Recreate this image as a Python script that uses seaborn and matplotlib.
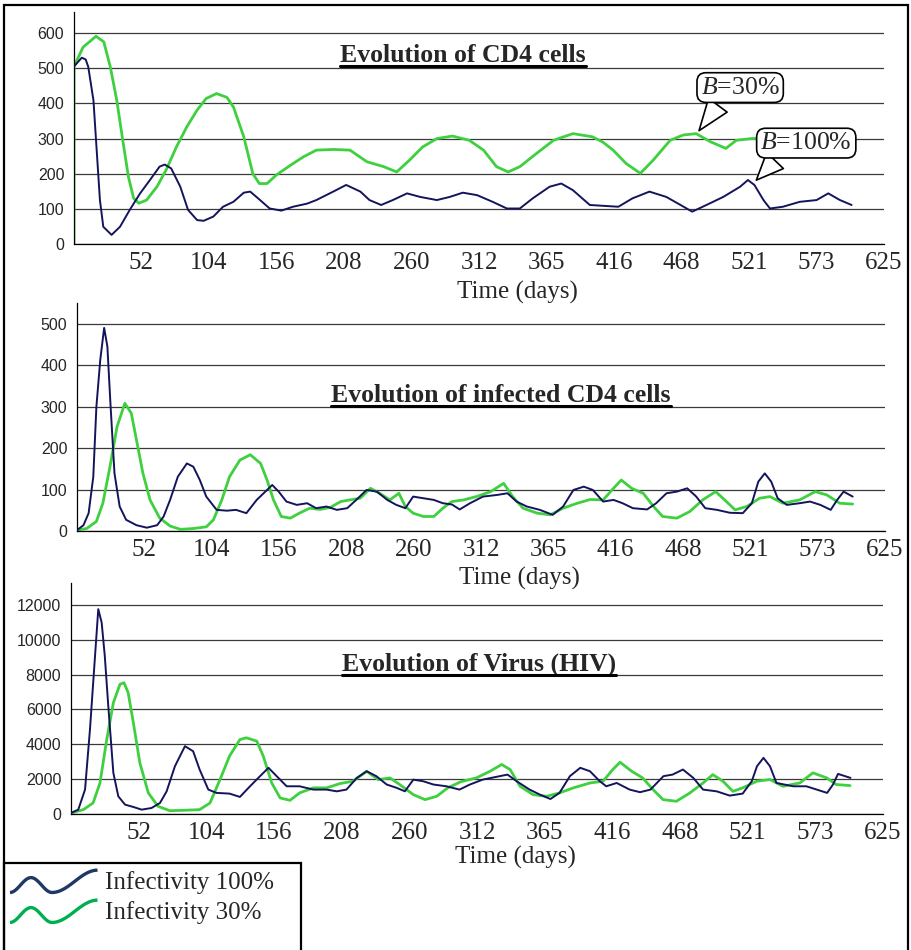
import numpy as np
import pandas as pd
import seaborn as sns
import matplotlib.pyplot as plt
from matplotlib.lines import Line2D
from matplotlib.patches import Rectangle
from matplotlib.legend_handler import HandlerBase

# ---- data (day, value) ----
cd4_days_100 = [0, 6, 9, 11, 15, 17.5, 20, 22.6, 29, 35.5, 43, 51, 58.6, 66, 70, 75, 82, 88, 95, 100,
                107.5, 115, 123, 131, 136, 142, 151, 160, 169, 180, 187, 200, 210, 221, 228, 237, 246,
                257, 267, 280, 290, 300, 311, 323, 334, 344, 354, 367, 376, 385, 398, 411, 420, 431,
                444, 457, 468, 477, 488, 501, 514, 520, 525, 532, 537, 547, 560, 573, 582, 591, 600]
cd4_vals_100 = [505, 530, 525, 504, 409, 267, 125, 49, 26, 49, 97, 144, 182, 220, 226, 215, 163, 97, 68, 66,
                78, 106, 120, 146, 149, 130, 101, 95, 106, 115, 125, 149, 168, 149, 125, 111, 125,
                144, 134, 125, 134, 146, 139, 120, 101, 101, 130, 163, 172, 153, 111, 108, 106, 130,
                149, 134, 111, 92, 111, 134, 163, 182, 168, 125, 101, 106, 120, 125, 144, 125, 111]

cd4_days_30 = [0, 0, 7, 17, 23, 28, 33, 38, 42, 46, 50, 56, 64, 71, 79, 87, 95, 102, 110, 118, 123, 131,
               138, 143, 149, 156, 167, 177, 187, 200, 213, 226, 239, 249, 259, 269, 280, 292, 305, 316,
               326, 335, 344, 357, 370, 385, 400, 408, 416, 426, 437, 447, 460, 470, 480, 491, 503, 511,
               523, 540, 560, 580, 600]
cd4_vals_30 = [0, 505, 560, 591, 575, 504, 409, 286, 191, 130, 116, 125, 163, 210, 276, 333, 381, 414, 428,
               417, 390, 305, 200, 172, 172, 196, 224, 248, 267, 269, 267, 234, 220, 205, 239, 276, 300,
               307, 295, 267, 220, 205, 220, 258, 295, 314, 305, 290, 267, 229, 201, 239, 295, 310, 314,
               291, 272, 295, 300, 300, 300, 300, 300]

inf_days_100 = [0, 5, 9, 12.6, 15, 18, 21, 23.5, 26, 29, 33, 38, 46, 54, 62, 67, 72, 78, 85, 90, 95, 100,
                108, 116, 123, 131, 139, 147, 151, 156, 162, 170, 178, 185, 193, 201, 209, 216, 224, 232,
                240, 247, 254, 260, 268, 276, 283, 290, 296, 304, 314, 325, 333, 340, 348, 358, 368, 376,
                384, 392, 399, 407, 415, 422, 430, 441, 448, 456, 464, 472, 479, 486, 495, 505, 515, 522,
                527, 532, 537, 542, 549, 559, 567, 575, 583, 588, 593, 600]
inf_vals_100 = [2, 14, 43, 131, 300, 413, 490, 445, 300, 139, 59, 27, 14, 8, 14, 35, 75, 131, 163, 155, 123,
                83, 51, 49, 51, 43, 75, 99, 111, 95, 71, 63, 67, 55, 59, 51, 55, 75, 99, 95, 75, 63, 55,
                83, 79, 75, 67, 64, 52, 67, 83, 87, 91, 71, 59, 51, 39, 59, 99, 107, 99, 71, 75, 67, 55,
                52, 67, 91, 95, 103, 83, 55, 51, 44, 43, 67, 119, 139, 119, 79, 63, 67, 71, 63, 51, 75,
                95, 83]

inf_days_30 = [0, 7.5, 15, 20, 25.5, 31, 37, 42, 46, 51, 56.5, 64, 72, 80, 90, 100, 105.5, 112, 118, 126,
               134, 142, 147, 152, 158, 165, 172, 180, 188, 196, 204, 211, 219, 227, 234, 242, 249, 254,
               260, 268, 276, 283, 290, 299, 309, 320, 330, 337, 345, 356, 366, 376, 387, 397, 407, 415,
               421, 429, 438, 446, 453, 464, 474, 484, 494, 501, 509, 518, 528, 536, 546, 559, 571, 580,
               590, 600]
inf_vals_30 = [2, 6, 23, 67, 155, 252, 308, 284, 220, 139, 75, 31, 12, 4, 6, 10, 27, 75, 131, 171, 184, 163,
               123, 75, 35, 31, 43, 55, 52, 57, 71, 75, 79, 103, 91, 75, 91, 59, 43, 35, 35, 55, 71, 75,
               83, 95, 115, 83, 55, 43, 39, 55, 67, 76, 75, 103, 123, 103, 91, 59, 35, 31, 47, 75, 95,
               75, 51, 59, 79, 83, 67, 75, 95, 87, 67, 65]

hiv_days_100 = [0, 5.6, 10.8, 14.6, 18.5, 21, 23.6, 26, 28.7, 32.6, 36.4, 41.6, 48, 54.4, 62, 68.5, 73.6,
                80, 87.7, 94, 99, 105.7, 112, 122, 130, 137.8, 145.5, 152, 158.3, 166, 176, 186.5, 196.8,
                204.5, 212, 220, 227.6, 235, 243, 250.7, 257, 263.5, 271, 279, 289, 299, 307, 317, 330,
                336, 343, 353, 361, 369, 376, 384, 392, 399.5, 407, 412, 420, 430, 438, 446, 456, 463,
                471, 479, 486.5, 497, 507, 517, 524, 528, 533, 538, 543, 556, 566, 574, 582, 586.5, 590.4,
                600]
hiv_vals_100 = [58, 250, 1400, 4850, 9070, 11750, 10980, 9070, 6190, 2360, 1015, 537, 403, 250, 345, 633,
                1300, 2740, 3890, 3600, 2550, 1400, 1210, 1170, 980, 1590, 2170, 2650, 2170, 1590, 1590,
                1400, 1400, 1300, 1400, 2070, 2450, 2170, 1690, 1500, 1300, 1970, 1880, 1690, 1590, 1400,
                1690, 1975, 2170, 2260, 1880, 1400, 1110, 860, 1210, 2170, 2650, 2450, 1880, 1590, 1780,
                1400, 1250, 1400, 2170, 2260, 2550, 2070, 1400, 1300, 1055, 1170, 1880, 2740, 3220, 2740,
                1780, 1590, 1590, 1400, 1210, 1690, 2300, 2070]

hiv_days_30 = [0, 9.5, 17, 22.3, 27.5, 32.6, 37.7, 40.8, 44, 48, 53, 59.5, 67, 76, 86, 99, 107, 114.7, 122,
               130, 135, 143, 148, 154.5, 161, 168.6, 176, 186.5, 196.8, 207, 217, 227.6, 236.5, 245.5,
               253, 263.5, 272.5, 281.5, 290, 300, 312, 322.5, 331.5, 338, 345.6, 355.7, 366, 376, 386.7,
               399.5, 409.5, 417, 422.6, 431.6, 440, 448, 455.7, 466, 476.4, 486.5, 494, 501.8, 509.5, 517,
               527.8, 538, 548, 561, 571, 581.7, 589, 599.6]
hiv_vals_30 = [58, 250, 633, 1780, 4270, 6380, 7440, 7530, 6960, 5230, 2930, 1210, 440, 190, 210, 250, 633,
               1975, 3320, 4270, 4370, 4180, 3320, 1780, 920, 785, 1210, 1500, 1500, 1745, 1880, 2450,
               1975, 2070, 1690, 1110, 825, 1015, 1500, 1850, 2070, 2450, 2840, 2550, 1590, 1110, 1015,
               1210, 1500, 1780, 1880, 2550, 2970, 2450, 2070, 1400, 825, 730, 1210, 1780, 2260, 1880,
               1300, 1500, 1880, 1975, 1590, 1780, 2360, 2070, 1690, 1630]

tick_labels = ['', '52', '104', '156', '208', '260', '312', '365', '416', '468', '521', '573', '625']
titles = ['Evolution of CD4 cells', 'Evolution of infected CD4 cells', 'Evolution of Virus (HIV)']
series_names = ['Infectivity 100%', 'Infectivity 30%']

NAVY = '#14145c'
GREEN = '#3fd03f'
SERIF = 'Liberation Serif'
SANS = 'Liberation Sans'

sns.set_style('white')
plt.rcParams['font.family'] = [SERIF, 'DejaVu Sans']
plt.rcParams['mathtext.fontset'] = 'custom'
plt.rcParams['mathtext.rm'] = SERIF
plt.rcParams['mathtext.it'] = SERIF + ':italic'

W, H = 911, 950
fig = plt.figure(figsize=(W / 100, H / 100), dpi=100)


def px_rect(left, top, right, bottom):
    return [left / W, 1 - bottom / H, (right - left) / W, (bottom - top) / H]


panels = [
    dict(rect=px_rect(74, 12, 884, 244), ylim=660, yticks=range(0, 601, 100),
         d100=cd4_days_100, v100=cd4_vals_100, d30=cd4_days_30, v30=cd4_vals_30,
         title_xy=(0.48, 0.785), xlabel_y=-0.207),
    dict(rect=px_rect(77, 303, 885, 531), ylim=550, yticks=range(0, 501, 100),
         d100=inf_days_100, v100=inf_vals_100, d30=inf_days_30, v30=inf_vals_30,
         title_xy=(0.525, 0.567), xlabel_y=-0.206),
    dict(rect=px_rect(71, 583, 883, 814), ylim=13250, yticks=range(0, 12001, 2000),
         d100=hiv_days_100, v100=hiv_vals_100, d30=hiv_days_30, v30=hiv_vals_30,
         title_xy=(0.502, 0.623), xlabel_y=-0.19),
]

tick_pos = np.arange(13) * 625 / 12
title_texts = []
axes = []
for p, title in zip(panels, titles):
    ax = fig.add_axes(p['rect'])
    ax.patch.set_alpha(0)
    axes.append(ax)
    df = pd.concat([
        pd.DataFrame({'day': p['d100'], 'value': p['v100'], 'series': series_names[0]}),
        pd.DataFrame({'day': p['d30'], 'value': p['v30'], 'series': series_names[1]}),
    ])
    sns.lineplot(data=df[df.series == series_names[0]], x='day', y='value', color=NAVY,
                 estimator=None, sort=False, lw=1.4, ax=ax, zorder=3)
    sns.lineplot(data=df[df.series == series_names[1]], x='day', y='value', color=GREEN,
                 estimator=None, sort=False, lw=2.0, ax=ax, zorder=2.5)
    ax.set_xlim(0, 625)
    ax.set_ylim(0, p['ylim'])
    ax.set_xticks(tick_pos)
    ax.set_xticklabels(tick_labels, fontfamily=SERIF, fontsize=18)
    ax.set_yticks(list(p['yticks']))
    ax.set_yticklabels([str(v) for v in p['yticks']], fontfamily=SANS, fontsize=11.5)
    ax.yaxis.grid(True, color='#3a3a3a', lw=0.9)
    ax.xaxis.grid(False)
    ax.set_axisbelow(True)
    for s in ['top', 'right']:
        ax.spines[s].set_visible(False)
    for s in ['left', 'bottom']:
        ax.spines[s].set_color('black')
        ax.spines[s].set_linewidth(0.9)
    ax.tick_params(axis='both', direction='out', length=4, width=0.9, color='black')
    ax.tick_params(axis='x', pad=2)
    ax.tick_params(axis='y', pad=3)
    ax.set_ylabel('')
    ax.set_xlabel('Time (days)', fontfamily=SERIF, fontsize=18)
    ax.xaxis.set_label_coords(0.547, p['xlabel_y'])
    ax.xaxis.label.set_va('center')
    t = ax.text(p['title_xy'][0], p['title_xy'][1], title, transform=ax.transAxes,
                ha='center', va='baseline', fontfamily=SERIF, fontweight='bold', fontsize=18.5,
                zorder=4)
    title_texts.append((ax, t, p['title_xy']))

# speech-bubble callouts on the CD4 panel
ax1 = axes[0]
bubble = dict(boxstyle='round,pad=0.15,rounding_size=0.35', fc='white', ec='black', lw=1.2)
ax1.annotate('$B$=30%', xy=(481, 316), xytext=(514, 445), ha='center', va='center',
             fontsize=18.5, fontfamily=SERIF, bbox=bubble, zorder=6,
             arrowprops=dict(arrowstyle='wedge,tail_width=0.9,shrink_factor=0.5', fc='white',
                             ec='black', lw=1.2, relpos=(0.3, 0.1)))
ax1.annotate('$B$=100%', xy=(525, 176), xytext=(565, 287), ha='center', va='center',
             fontsize=18.5, fontfamily=SERIF, bbox=bubble, zorder=6,
             arrowprops=dict(arrowstyle='wedge,tail_width=0.9,shrink_factor=0.5', fc='white',
                             ec='black', lw=1.2, relpos=(0.25, 0.1)))

# underline the panel titles
fig.canvas.draw()
renderer = fig.canvas.get_renderer()
inv = fig.transFigure.inverted()
for ax, t, (tx, ty) in title_texts:
    bb = t.get_window_extent(renderer)
    base = ax.transAxes.transform((tx, ty))[1] - 4.5
    (x0, y0), (x1, _) = inv.transform([(bb.x0, base), (bb.x1, base)])
    fig.add_artist(Line2D([x0, x1], [y0, y0], color='black', lw=2.2, transform=fig.transFigure))


# legend with wavy handles
class WaveHandler(HandlerBase):
    def create_artists(self, legend, orig_handle, xdescent, ydescent, width, height, fontsize, trans):
        s = np.linspace(0, 1, 80)
        y = np.where(s < 0.48, 0.5 * (1 - np.cos(2 * np.pi * s / 0.48)),
                     0.75 * (1 - np.cos(np.pi * (s - 0.48) / 0.52)))
        xs = -xdescent + s * width
        ys = -ydescent + height * (-0.2 + 0.85 * y)
        line = Line2D(xs, ys, color=orig_handle.get_color(), lw=orig_handle.get_linewidth(),
                      solid_capstyle='butt')
        line.set_transform(trans)
        return [line]


handles = [Line2D([], [], color='#1f3864', lw=2.4), Line2D([], [], color='#00b050', lw=2.4)]
fig.legend(handles, series_names, loc='upper left', bbox_to_anchor=(10 / W, 1 - 871 / H),
           frameon=False, prop={'family': SERIF, 'size': 18}, handlelength=3.5,
           handletextpad=0.3, labelspacing=0.28, borderpad=0, borderaxespad=0,
           handler_map={Line2D: WaveHandler()})

# outer frame and legend frame
fig.add_artist(Rectangle((4 / W, -0.01), 904 / W, 1.01 - 4.5 / H, fill=False, ec='black', lw=1.6,
                         transform=fig.transFigure))
fig.add_artist(Rectangle((4 / W, -0.01), 297 / W, 0.01 + 1 - 863 / H, fill=False, ec='black', lw=1.6,
                         transform=fig.transFigure))

fig.savefig('out.png', dpi=100)
